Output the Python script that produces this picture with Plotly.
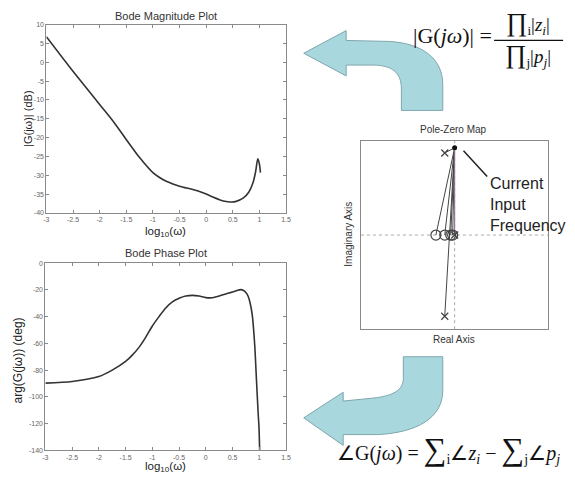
import plotly.graph_objects as go

W, H = 575, 477

# ---------------- data ----------------
mag_logw = [-3.0, -2.5, -2.0, -1.75, -1.5, -1.25, -1.0, -0.875, -0.75, -0.625, -0.5, -0.25,
            -0.125, 0.0, 0.125, 0.25, 0.35, 0.45, 0.55, 0.7, 0.8, 0.88, 0.93, 0.97, 1.0, 1.02]
mag_db = [6.8, -2.4, -11.2, -15.6, -20.5, -25.3, -29.3, -30.6, -31.6, -32.3, -32.9, -33.8,
          -34.3, -35.0, -35.8, -36.5, -36.9, -37.1, -37.0, -36.0, -34.5, -32.0, -29.0, -25.6, -27.0, -29.3]

phase_logw = [-3.0, -2.5, -2.0, -1.75, -1.5, -1.375, -1.25, -1.125, -1.0, -0.875, -0.75, -0.625,
              -0.5, -0.375, -0.25, -0.125, 0.0, 0.125, 0.25, 0.375, 0.5, 0.6, 0.65, 0.7, 0.75,
              0.79, 0.83, 0.87, 0.915, 0.946, 0.977, 0.995, 1.007]
phase_deg = [-89.7, -88.5, -84.8, -80.0, -73.5, -68.8, -63.0, -55.5, -47.0, -40.0, -33.5, -29.0,
             -26.3, -24.6, -24.1, -24.6, -25.8, -25.9, -24.6, -23.0, -21.6, -20.2, -19.8, -20.3, -22.0,
             -24.6, -30.0, -39.3, -61.4, -86.0, -110.6, -123.0, -140.0]

bode_xticks = [-3, -2.5, -2, -1.5, -1, -0.5, 0, 0.5, 1, 1.5]
bode_xticklabels = ["-3", "-2.5", "-2", "-1.5", "-1", "-0.5", "0", "0.5", "1", "1.5"]
mag_yticks = [10, 5, 0, -5, -10, -15, -20, -25, -30, -35, -40]
phase_yticks = [0, -20, -40, -60, -80, -100, -120, -140]

zeros_re = [-2.2, -1.16, -0.46, -0.23]
zeros_im = [0.0, 0.0, 0.0, 0.0]
poles_re = [-1.16, -1.16, 0.0]
poles_im = [9.6, -9.5, 0.0]
current_re = [0.0]
current_im = [10.2]

# ---------------- helpers ----------------
def px(x):
    return x / W


def py(y):
    return 1 - y / H


def path(cmds):
    out = []
    for c in cmds:
        if c == "Z":
            out.append("Z")
        else:
            op, pts = c
            out.append(op + " " + " ".join(f"{px(a):.5f},{py(b):.5f}" for a, b in pts))
    return " ".join(out)


SANS = "Liberation Sans, Arial, sans-serif"
SERIF = "Liberation Serif, Times New Roman, serif"
FRAME = "#8a8a8a"
TICKF = dict(family=SANS, size=7, color="#666")

fig = go.Figure()

fig.add_trace(go.Scatter(x=mag_logw, y=mag_db, mode="lines",
                         line=dict(color="#333", width=1.6, shape="spline", smoothing=0.7),
                         xaxis="x", yaxis="y", showlegend=False, hoverinfo="skip"))
fig.add_trace(go.Scatter(x=phase_logw, y=phase_deg, mode="lines",
                         line=dict(color="#333", width=1.6, shape="spline", smoothing=0.7),
                         xaxis="x2", yaxis="y2", showlegend=False, hoverinfo="skip"))

fig.add_trace(go.Scatter(x=[-11, 11, None, 0, 0], y=[0, 0, None, -11, 11], mode="lines",
                         line=dict(color="#aaa", width=1, dash="dot"), xaxis="x3", yaxis="y3",
                         showlegend=False, hoverinfo="skip"))
lx, ly = [], []
for r, i in zip(zeros_re + poles_re[:2], zeros_im + poles_im[:2]):
    lx += [current_re[0], r, None]
    ly += [current_im[0], i, None]
fig.add_trace(go.Scatter(x=lx, y=ly, mode="lines", line=dict(color="#444", width=1),
                         xaxis="x3", yaxis="y3", showlegend=False, hoverinfo="skip"))
fig.add_trace(go.Scatter(x=[current_re[0], poles_re[2]], y=[current_im[0], poles_im[2]], mode="lines",
                         line=dict(color="#9a6a95", width=1.1), xaxis="x3", yaxis="y3",
                         showlegend=False, hoverinfo="skip"))
fig.add_trace(go.Scatter(x=zeros_re, y=zeros_im, mode="markers",
                         marker=dict(symbol="circle-open", size=10, color="#444", line=dict(width=1.2)),
                         xaxis="x3", yaxis="y3", showlegend=False, hoverinfo="skip"))
fig.add_trace(go.Scatter(x=poles_re, y=poles_im, mode="markers",
                         marker=dict(symbol="x-thin", size=7, color="#444", line=dict(width=1.3, color="#444")),
                         xaxis="x3", yaxis="y3", showlegend=False, hoverinfo="skip"))
fig.add_trace(go.Scatter(x=current_re, y=current_im, mode="markers",
                         marker=dict(symbol="circle", size=5, color="#111"),
                         xaxis="x3", yaxis="y3", showlegend=False, hoverinfo="skip"))

bode_axis = dict(showline=True, linecolor=FRAME, linewidth=1, mirror="ticks", ticks="inside",
                 ticklen=3, tickcolor=FRAME, showgrid=False, zeroline=False, tickfont=TICKF)

fig.update_layout(
    width=W, height=H, margin=dict(l=0, r=0, t=0, b=0),
    paper_bgcolor="white", plot_bgcolor="white", showlegend=False,
    xaxis=dict(domain=[px(44), px(287)], range=[-3, 1.5], anchor="y", tickvals=bode_xticks,
               ticktext=bode_xticklabels, **bode_axis),
    yaxis=dict(domain=[py(212), py(21)], range=[-40, 10], anchor="x", tickvals=mag_yticks,
               ticktext=[str(v) for v in mag_yticks], **bode_axis),
    xaxis2=dict(domain=[px(43), px(287)], range=[-3, 1.5], anchor="y2", tickvals=bode_xticks,
                ticktext=bode_xticklabels, **bode_axis),
    yaxis2=dict(domain=[py(453), py(263)], range=[-140, 0], anchor="x2", tickvals=phase_yticks,
                ticktext=[str(v) for v in phase_yticks], **bode_axis),
    xaxis3=dict(domain=[px(363), px(553)], range=[-11, 11], anchor="y3", showline=True, linecolor=FRAME,
                mirror=True, showticklabels=False, ticks="", showgrid=False, zeroline=False),
    yaxis3=dict(domain=[py(330), py(139)], range=[-11, 11], anchor="x3", showline=True, linecolor=FRAME,
                mirror=True, showticklabels=False, ticks="", showgrid=False, zeroline=False),
)

ann = []


def text(x, y, s, size, family=SANS, color="#333", xanchor="center", angle=0, align="center"):
    ann.append(dict(x=px(x), y=py(y), xref="paper", yref="paper", text=s, showarrow=False,
                    font=dict(family=family, size=size, color=color), xanchor=xanchor,
                    yanchor="middle", textangle=angle, align=align, borderpad=0))


text(165, 12, "Bode Magnitude Plot", 11)
text(165, 231, "log<sub>10</sub>(ω)", 11.5, color="#222")
text(26, 117, "|G(jω)| (dB)", 11, color="#222", angle=-90)
text(165, 253, "Bode Phase Plot", 11)
text(165, 470, "log<sub>10</sub>(ω)", 11.5, color="#222")
text(15, 362, "arg(G(jω)) (deg)", 12, color="#222", angle=-90)
text(457, 127, "Pole-Zero Map", 10)
text(457, 341, "Real Axis", 10)
text(350, 234, "Imaginary Axis", 10, angle=-90)
text(493, 203, "Current<br>Input<br>Frequency", 16, color="#222", xanchor="left", align="left")

# formulas
text(497, 32, "|G(<i>jω</i>)| =", 22, family=SERIF, color="#111", xanchor="right")
text(532, 19, "<span style='font-size:26px'>∏</span><sub>i</sub>|<i>z<sub>i</sub></i>|", 19,
     family=SERIF, color="#111")
text(532, 52, "<span style='font-size:26px'>∏</span><sub>j</sub>|<i>p<sub>j</sub></i>|", 19,
     family=SERIF, color="#111")
text(338, 452, "∠G(<i>jω</i>) = <span style='font-size:32px'>∑</span><sub>i</sub>∠<i>z<sub>i</sub></i> − "
               "<span style='font-size:32px'>∑</span><sub>j</sub>∠<i>p<sub>j</sub></i>",
     20, family=SERIF, color="#111", xanchor="left")

fig.update_layout(annotations=ann)

ARROW_FILL = "#a8d8dd"
ARROW_LINE = "#7fa6ad"
top_arrow = [("M", [(305, 50)]), ("L", [(348, 27)]), ("L", [(348, 37)]), ("L", [(392, 38)]),
             ("C", [(425, 40), (446, 55), (446, 82)]), ("L", [(446, 108)]), ("L", [(404, 108)]),
             ("L", [(404, 86)]), ("C", [(404, 70), (395, 62), (375, 62)]), ("L", [(348, 62)]),
             ("L", [(348, 73)]), "Z"]
bottom_arrow = [("M", [(305, 420)]), ("L", [(345, 394)]), ("L", [(345, 403)]), ("L", [(375, 400)]),
                ("C", [(395, 398), (406, 392), (406, 380)]), ("L", [(406, 358)]), ("L", [(446, 358)]),
                ("L", [(446, 392)]), ("C", [(446, 420), (420, 435), (380, 437)]), ("L", [(345, 437)]),
                ("L", [(345, 448)]), "Z"]

shapes = [
    dict(type="path", xref="paper", yref="paper", path=path(top_arrow), fillcolor=ARROW_FILL,
         line=dict(color=ARROW_LINE, width=1)),
    dict(type="path", xref="paper", yref="paper", path=path(bottom_arrow), fillcolor=ARROW_FILL,
         line=dict(color=ARROW_LINE, width=1)),
    dict(type="line", xref="paper", yref="paper", x0=px(498), x1=px(568), y0=py(37), y1=py(37),
         line=dict(color="#111", width=1.2)),
    dict(type="line", xref="paper", yref="paper", x0=px(491), x1=px(467), y0=py(175), y1=py(149),
         line=dict(color="#222", width=1.5)),
]
fig.update_layout(shapes=shapes)

fig.write_html("out.html", config={"displayModeBar": False},
               post_script="document.body.style.margin='0';document.body.style.padding='0';")
